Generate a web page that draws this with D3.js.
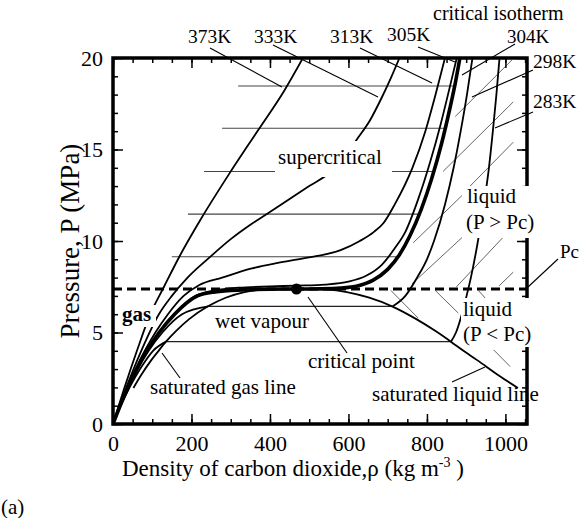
<!DOCTYPE html>
<html><head><meta charset="utf-8">
<script src="https://cdn.jsdelivr.net/npm/d3@7/dist/d3.min.js"></script>
<style>
html,body{margin:0;padding:0;background:#fff;}
</style></head>
<body><svg id="c" width="581" height="518" style="font-family:'Liberation Serif','Times New Roman',Times,serif"></svg>
<script>
// ---------- data (density kg/m3, pressure MPa) ----------
const xMajor = [0,200,400,600,800,1000];
const yMajor = [0,5,10,15,20];
const iso373 = [[0,0],[14.5,1],[29.5,2],[61,4],[95,6],[130,7.5],[168,9.1],[224,11.2],[294,13.6],[368,16.0],[436,18.2],[484,20]];
const iso333 = [[0,0],[16.5,1],[34,2],[72,4],[117,6],[150,7],[190,8],[249,9.16],[300,10.1],[351,10.9],[394,11.5],[450,12.3],[500,13.0],[551,13.7],[590,14.5],[620,15.5],[655,16.6],[684,17.8],[708,18.9],[730,20]];
const iso313 = [[0,0],[17.5,1],[36.6,2],[57.5,3],[81,4],[108,5],[140,6],[180,7],[220,7.6],[278,8],[354,8.5],[420,8.8],[485,9.05],[580,9.5],[629,10],[665,10.5],[690,11],[718,12],[763,14],[796,16],[822,18],[846,20]];
const iso305 = [[0,0],[18,1],[38,2],[60,3],[86,4],[117,5],[155,6],[210,7],[260,7.3],[320,7.45],[400,7.52],[470,7.56],[540,7.62],[600,7.78],[645,8.1],[685,8.7],[718,9.6],[745,10.5],[778,12.3],[808,14.3],[834,16.3],[857,18.3],[876,20]];
const iso304 = [[0,0],[18.2,1],[38.2,2],[60.5,3],[86.4,4],[117.5,5],[157,6],[215,7],[260,7.22],[330,7.33],[400,7.37],[467.6,7.377],[530,7.39],[580,7.43],[625,7.56],[662,7.85],[700,8.45],[730,9.25],[757,10.3],[785,11.7],[812,13.4],[837,15.3],[858,17.2],[872,18.6],[884,20]];
const gas298 = [[0,0],[18.6,1],[39.3,2],[62.9,3],[90.8,4],[125.8,5],[176,6],[242.7,6.43]];
const liq298 = [[713,6.43],[745,7],[775,8],[800,9],[818,10],[846,12],[868,14],[886,16],[902,18],[916,20]];
const gas283 = [[0,0],[19.8,1],[42.3,2],[68.9,3],[102,4],[135,4.5]];
const liq283 = [[861,4.5],[874,5],[889,6],[901,7],[912,8],[930,10],[945,12],[958,14],[968,16],[977,18],[985,20]];
const dome = [[52,1.97],[71,2.65],[97.6,3.49],[115,3.97],[135,4.5],[161,5.09],[194,5.73],[242,6.43],[287,6.9],[335,7.21],[390,7.34],[467.6,7.377],[545,7.34],[596,7.21],[653,6.9],[711,6.43],[773,5.73],[821,5.09],[861,4.5],[895,3.97],[928,3.49],[983,2.65],[1032,1.97]];
const critPoint = [467.6, 7.377];
const Pc = 7.38;
const scLevels = [9.14, 11.47, 13.8, 16.16, 18.47];
const scStart  = [150, 191, 232, 278, 319];
// hatch segments [rho1,P1,rho2,P2]
const hatchUp = [[1017,19.9,872,16.8],[1020,17.6,841,13.8],[1020,15.4,910,13.0],[890,12.5,765,9.9],[890,10.2,762,7.66],[994,10.2,875,7.49],[1020,8.3,984,7.55]];
const hatchDown = [[708,7.3,778,5.78],[821,7.3,880,6.06],[931,7.3,953,6.78],[970,4.05,1012,3.14]];

const FONT = "'Liberation Serif','Times New Roman',Times,serif";

// ---------- scales ----------
const svg = d3.select('#c');
const x = d3.scaleLinear().domain([0,1055]).range([113,527]);
const y = d3.scaleLinear().domain([0,20]).range([424,58]);
const line = d3.line().x(d=>x(d[0])).y(d=>y(d[1])).curve(d3.curveMonotoneX);

svg.append('defs').append('clipPath').attr('id','pl').append('rect')
  .attr('x',x(0)).attr('y',y(20)).attr('width',x(1055)-x(0)).attr('height',y(0)-y(20));
const plot = svg.append('g').attr('clip-path','url(#pl)');

function rhoAt(iso,p){for(let i=1;i<iso.length;i++){const a=iso[i-1],b=iso[i];if(p>=a[1]&&p<=b[1]&&b[1]>a[1]){return a[0]+(b[0]-a[0])*(p-a[1])/(b[1]-a[1]);}}return iso[iso.length-1][0];}

scLevels.forEach((p,i)=>{
  plot.append('line').attr('x1',x(scStart[i])).attr('x2',x(rhoAt(iso304,p))).attr('y1',y(p)).attr('y2',y(p))
    .attr('stroke','#444').attr('stroke-width',1.1);
});
hatchUp.concat(hatchDown).forEach(h=>{
  plot.append('line').attr('x1',x(h[0])).attr('y1',y(h[1])).attr('x2',x(h[2])).attr('y2',y(h[3]))
    .attr('stroke','#666').attr('stroke-width',1);
});
[[gas283,liq283],[gas298,liq298]].forEach(([g,l])=>{
  const a=g[g.length-1], b=l[0];
  plot.append('line').attr('x1',x(a[0])).attr('x2',x(b[0])).attr('y1',y(a[1])).attr('y2',y(b[1]))
    .attr('stroke','#222').attr('stroke-width',1.3);
});
plot.append('line').attr('x1',x(0)).attr('x2',x(1055)).attr('y1',y(Pc)).attr('y2',y(Pc))
  .attr('stroke','#000').attr('stroke-width',3).attr('stroke-dasharray','9,5');

const thin = [iso373,iso333,iso313,iso305,gas298,liq298,gas283,liq283,dome];
thin.forEach(d=>plot.append('path').attr('d',line(d)).attr('fill','none').attr('stroke','#000').attr('stroke-width',1.8));
plot.append('path').attr('d',line(iso304)).attr('fill','none').attr('stroke','#000').attr('stroke-width',3.6);
plot.append('circle').attr('cx',x(critPoint[0])).attr('cy',y(critPoint[1])).attr('r',5.5).attr('fill','#000');

// ---------- axes ----------
const xMinor = d3.range(0,1051,50), yMinor = d3.range(0,21,1);
function styleAxis(g){g.attr('font-family',null).attr('font-size',null);g.select('.domain').remove();g.selectAll('line').attr('stroke','#000').attr('stroke-width',1.5);g.selectAll('text').attr('fill','#000').style('font-size','22px').style('font-family',FONT);}
svg.append('g').attr('transform',`translate(0,${y(0)})`).call(d3.axisBottom(x).tickValues(xMinor).tickSize(-5).tickFormat('')).call(styleAxis);
svg.append('g').attr('transform',`translate(0,${y(0)})`).call(d3.axisBottom(x).tickValues(xMajor).tickSize(-10).tickPadding(11).tickFormat(d3.format('d'))).call(styleAxis);
svg.append('g').attr('transform',`translate(0,${y(20)})`).call(d3.axisTop(x).tickValues(xMinor).tickSize(-5).tickFormat('')).call(styleAxis);
svg.append('g').attr('transform',`translate(0,${y(20)})`).call(d3.axisTop(x).tickValues(xMajor).tickSize(-10).tickFormat('')).call(styleAxis);
svg.append('g').attr('transform',`translate(${x(0)},0)`).call(d3.axisLeft(y).tickValues(yMinor).tickSize(-5).tickFormat('')).call(styleAxis);
svg.append('g').attr('transform',`translate(${x(0)},0)`).call(d3.axisLeft(y).tickValues(yMajor).tickSize(-10).tickPadding(10).tickFormat(d3.format('d'))).call(styleAxis);
svg.append('g').attr('transform',`translate(${x(1055)},0)`).call(d3.axisRight(y).tickValues(yMinor).tickSize(-5).tickFormat('')).call(styleAxis);
svg.append('g').attr('transform',`translate(${x(1055)},0)`).call(d3.axisRight(y).tickValues(yMajor).tickSize(-10).tickFormat('')).call(styleAxis);
svg.append('rect').attr('x',x(0)).attr('y',y(20)).attr('width',x(1055)-x(0)).attr('height',y(0)-y(20))
  .attr('fill','none').attr('stroke','#000').attr('stroke-width',3.5);

// ---------- annotation boxes (white) ----------
const boxes = [[275,141,117,36],[118,305,38,22],[462,186,78,52],[461,298,77,49]];
boxes.forEach(b=>svg.append('rect').attr('x',b[0]).attr('y',b[1]).attr('width',b[2]).attr('height',b[3]).attr('fill','#fff'));

const leaders = [[210,48,282,87],[273,45,378,97],[360,48,432,83],[418,47,455,62],[515,44,462,75],[533,70,472,97],[533,112,495,128],[558,259,528,287],[308,297,347,353],[180,378,162,353],[452,382,485,367]];
leaders.forEach(l=>svg.append('line').attr('x1',l[0]).attr('y1',l[1]).attr('x2',l[2]).attr('y2',l[3]).attr('stroke','#000').attr('stroke-width',1.1));

function txt(s,xx,yy,fs){return svg.append('text').attr('x',xx).attr('y',yy).style('font-family',FONT).style('font-size',fs+'px').attr('fill','#000').text(s);}
const labels = [
 ['373K',188,43,19.5],['333K',254,43,19.5],['313K',330,43,19.5],['305K',387,41,19.5],['304K',507,43,19],
 ['critical isotherm',433,20,20],['298K',533,68,19.5],['283K',533,108,19.5],
 ['supercritical',278,164,21],['liquid',467,203,21],['(P > Pc)',466,229,21],['Pc',560,258,19],
 ['liquid',463,316,21],['(P < Pc)',463,341,21],['wet vapour',215,328,21],['critical point',308,368,21],
 ['saturated gas line',150,394,21],['saturated liquid line',372,401,21],['(a)',1,514,21]
];
labels.forEach(l=>txt(l[0],l[1],l[2],l[3]));
txt('gas',122,321,21).style('font-weight','bold');

const xt = svg.append('text').attr('x',122).attr('y',476).style('font-family',FONT).style('font-size','23px');
xt.append('tspan').text('Density of carbon dioxide,\u03c1 (kg m');
xt.append('tspan').style('font-size','14px').attr('dy',-9).text('-3');
xt.append('tspan').attr('dy',9).text(' )');
svg.append('text').attr('transform','translate(79,241) rotate(-90)').attr('text-anchor','middle')
  .style('font-family',FONT).style('font-size','27px').text('Pressure, P (MPa)');
</script></body></html>
